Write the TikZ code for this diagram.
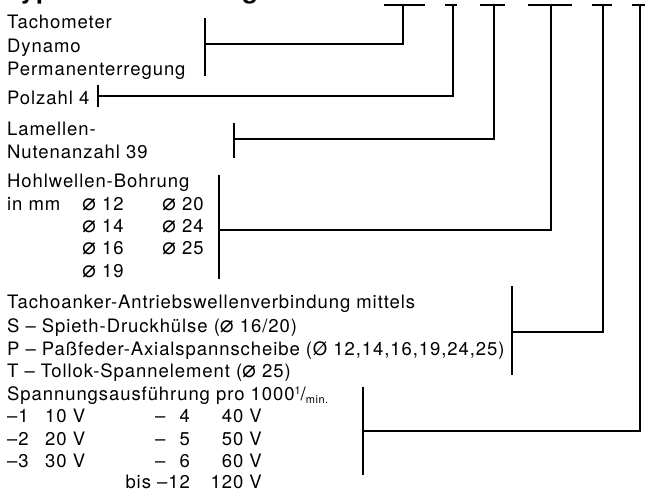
\documentclass[tikz,border=0pt]{standalone}
\usepackage{fontspec}
\setmainfont{TeX Gyre Heros}[LetterSpace=5]
\newfontfamily\symfont{DejaVu Sans}
\usepackage{graphicx}
\newcommand{\dia}{{\symfont\scalebox{1.25}{⌀}}}

\begin{document}
\begin{tikzpicture}[x=1pt,y=-1pt]
\tikzset{lbl/.style={anchor=base west,inner sep=0pt,font=\fontsize{18.5}{22}\selectfont}}
\tikzset{rlbl/.style={lbl,anchor=base east}}
\tikzset{bar/.style={line width=1.6pt}}
\tikzset{tickline/.style={line width=2.2pt}}
\useasboundingbox (0,0) rectangle (645,491);
\clip (0,0) rectangle (645,491);

% title, cut by the upper edge
\node[lbl,font=\fontsize{26}{30}\selectfont\bfseries] (title) at (5,-2) {Typenbezeichnung};

% the six groups of the type code
\foreach \i/\txt/\yy in {1/Tachometer/28, 2/Dynamo/52, 3/Permanenterregung/75}
    \node[lbl] (tacho\i) at (7,\yy) {\txt};
\node[lbl] (pol) at (7,104) {Polzahl 4};
\node[lbl] (lam1) at (7,135) {Lamellen-};
\node[lbl] (lam2) at (7,158) {Nutenanzahl 39};
\node[lbl] (bohr) at (7,187) {Hohlwellen-Bohrung};
\node[lbl] (mm) at (7,210) {in mm};
\foreach \i/\dd/\yy in {1/12/210, 2/14/232, 3/16/254, 4/19/277}
    \node[lbl] (dia\i) at (82,\yy) {\dia\ \dd};
\foreach \i/\dd/\yy in {5/20/210, 6/24/232, 7/25/254}
    \node[lbl] (dia\i) at (162,\yy) {\dia\ \dd};
\node[lbl] (anker) at (7,308) {Tachoanker-Antriebswellenverbindung mittels};
\node[lbl] (ankS) at (7,332) {S – Spieth-Druckhülse (\dia\ 16/20)};
\node[lbl] (ankP) at (7,355) {P – Paßfeder-Axialspannscheibe (Ø 12,14,16,19,24,25)};
\node[lbl] (ankT) at (7,377) {T – Tollok-Spannelement (\dia\ 25)};
\node[lbl] (spann) at (7,400) {Spannungsausführung pro 1000\raisebox{0.55ex}{\fontsize{11}{12}\selectfont 1}/\raisebox{-0.35ex}{\fontsize{11}{12}\selectfont min.}};
% voltage table
\foreach \i/\yy in {1/422, 2/445, 3/467}
{
    \node[lbl] (vk\i) at (7,\yy) {–\i};
    \node[lbl] (vv\i) at (45,\yy) {\i0 V};
}
\foreach \i/\yy in {4/422, 5/445, 6/467}
{
    \node[lbl] (vd\i) at (155,\yy) {–};
    \node[rlbl] (vk\i) at (190,\yy) {\i};
    \node[rlbl] (vv\i) at (262,\yy) {\i0 V};
}
\node[rlbl] (vk12) at (190,488) {bis –12};
\node[rlbl] (vv12) at (262,488) {120 V};

% brackets: bar x, bar top, bar bottom, line y, tick x, tick ends
\foreach \k/\bx/\btop/\bbot/\hy/\tx/\tl/\tr in
    {1/205/18/76/44/403/384/425, 2/98/85/107/96/453/445/457,
     3/234/123/158/139/494/480/505, 4/219/175/279/230/551/528/572,
     5/512/286/375/332/603/592/612, 6/363/387/475/431/640/632/650}
{
    \coordinate (bt\k) at (\bx,\btop);
    \coordinate (bb\k) at (\bx,\bbot);
    \coordinate (bm\k) at (\bx,\hy);
    \coordinate (tk\k) at (\tx,5);
    \coordinate (tl\k) at (\tl,5);
    \coordinate (tr\k) at (\tr,5);
    \draw[bar] (bt\k) -- (bb\k);
    \draw[bar] (bm\k) -| (tk\k);
    \draw[tickline] (tl\k) -- (tr\k);
}
\end{tikzpicture}
\end{document}
